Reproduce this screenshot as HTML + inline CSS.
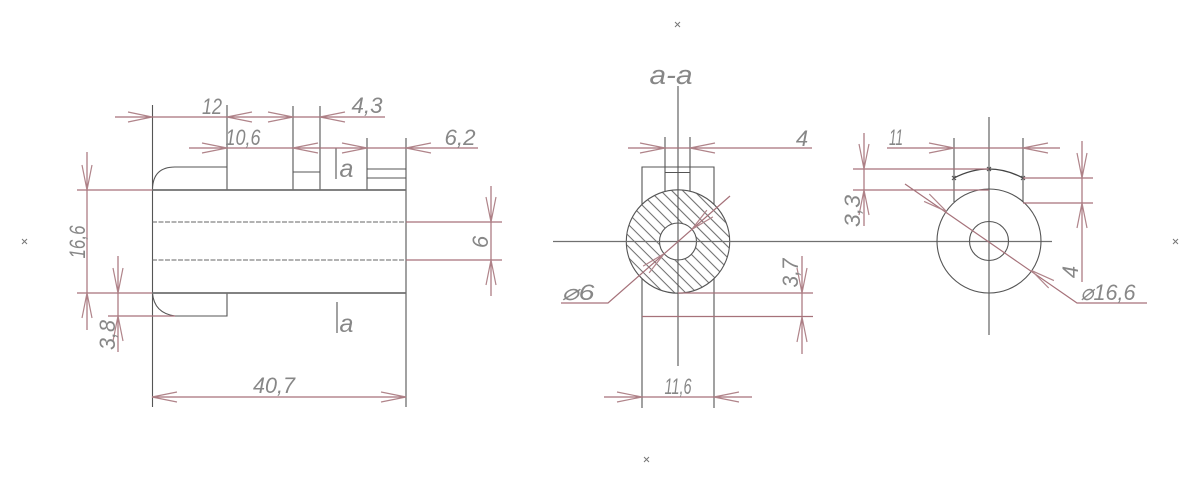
<!DOCTYPE html>
<html><head><meta charset="utf-8"><style>
html,body{margin:0;padding:0;background:#fff}
svg{display:block}
.k{stroke:#555;stroke-width:1.100;fill:none}
.t{stroke:#707070;stroke-width:1.800;fill:none}
.r{stroke:#a6727a;stroke-width:1.200;fill:none}
.a{stroke:#b0848a;stroke-width:1.200;fill:none}
text{font-family:"Liberation Sans",sans-serif;font-style:italic;fill:#878787;font-size:22px;text-anchor:middle}
</style></head><body>
<svg width="1200" height="484" viewBox="0 0 1200 484" xmlns="http://www.w3.org/2000/svg">
<defs><pattern id="h" width="7.800" height="7.800" patternUnits="userSpaceOnUse" patternTransform="rotate(45)"><line x1="0" y1="3" x2="7.800" y2="3" stroke="#666" stroke-width="1"/></pattern></defs>
<path stroke="#777" stroke-width="1" fill="none" d="M22 239l5 5m0-5l-5 5M675 22l5 5m0-5l-5 5M1173 239l5 5m0-5l-5 5M644 457l5 5m0-5l-5 5"/>
<!-- left view -->
<path class="k" d="M152.500 105V407M227 105V190M293 106V190M320 106V190M367 138V190M406 138V407M293 172H320M367 169H406M367 178H406M152.500 189Q153 167 175 167H227M152.500 293Q154 313 175 316H227V293M336 148V179M337 302V333"/>
<path class="t" d="M152 190H406M152 293H406"/>
<path d="M152 222H406M152 260H406" stroke="#666" stroke-width="1.100" stroke-dasharray="5 1.500" fill="none"/>
<path class="r" d="M115 117H385M189 148H478M77 190H152M77 293H152M108 316H175M87 152V330M118 256V352M152 397H406M406 222H502M406 260H502M491 186V296"/>
<path class="a" d="M128 112L152 117L128 122M252 112L227 117L252 122M268 112L293 117L268 122M345 112L320 117L345 122M202 143L227 148L202 153M318 143L293 148L318 153M342 143L367 148L342 153M431 143L406 148L431 153M177 392L152 397L177 402M381 392L406 397L381 402M82 165L87 190L92 165M82 318L87 293L92 318M113 268L118 293L123 268M113 341L118 316L123 341M486 197L491 222L496 197M486 285L491 260L496 285"/>
<!-- section view -->
<circle cx="678" cy="241.500" r="51.700" fill="url(#h)"/>
<circle cx="678" cy="241.500" r="18.500" fill="#fff"/>
<circle class="k" cx="678" cy="241.500" r="51.700"/>
<circle class="k" cx="678" cy="241.500" r="18.500"/>
<path class="k" d="M678 86V366M642 204V167H714V204M665 137V191M690 137V191M665 172.500H690M642 279V408M714 279V408M642 316.500H714"/>
<path class="t" style="stroke-width:1.300" d="M553 241.500H1052"/>
<path class="r" d="M628 148H812M604 397H752M678 293H813M642 316.500H813M802 256V354M730 196L608 303H561"/>
<path class="a" d="M640 143L665 148L640 153M715 143L690 148L715 153M617 392L642 397L617 402M739 392L714 397L739 402M797 268L802 293L807 268M797 342L802 317L807 342M712.900 216.900L691.900 229.300L706.900 210.100M649.100 272.900L664.100 253.700L643.100 266.100"/>
<!-- right view -->
<circle class="k" cx="989" cy="241" r="52"/>
<circle class="k" cx="989" cy="241" r="19.500"/>
<path class="k" d="M989 117V335M954 138V202M1023 138V202"/>
<path d="M954 178Q989 160 1023 178" stroke="#444" stroke-width="1.300" fill="none"/>
<path class="k" d="M952 176l4 4m0-4l-4 4M987 167l4 4m0-4l-4 4M1021 176l4 4m0-4l-4 4"/>
<path class="r" d="M887 148H1060M853 169H989M853 190H989M864 133V226M1023 178H1093M1023 203H1093M1082 141V282M905 184L1077 303H1147"/>
<path class="a" d="M929 143L954 148L929 153M1048 143L1023 148L1048 153M859 144L864 169L869 144M859 215L864 190L869 215M1077 153L1082 178L1087 153M1077 228L1082 203L1087 228M924.100 201.400L946.400 211.400L929.300 194M1048.700 288L1031.600 270.600L1053.900 280.600"/>
<!-- labels -->
<text x="212" y="114" textLength="20" lengthAdjust="spacingAndGlyphs">12</text>
<text x="243" y="145" textLength="35" lengthAdjust="spacingAndGlyphs">10,6</text>
<text x="367" y="113" textLength="31" lengthAdjust="spacingAndGlyphs">4,3</text>
<text x="460" y="145" textLength="31" lengthAdjust="spacingAndGlyphs">6,2</text>
<text x="346.500" y="177" style="font-size:25px">a</text>
<text x="346.500" y="332" style="font-size:25px">a</text>
<text x="274" y="393" textLength="42" lengthAdjust="spacingAndGlyphs">40,7</text>
<text transform="translate(85,242) rotate(-90)" textLength="33" lengthAdjust="spacingAndGlyphs">16,6</text>
<text transform="translate(115,335) rotate(-90)" textLength="30" lengthAdjust="spacingAndGlyphs">3,8</text>
<text transform="translate(488,242) rotate(-90)">6</text>
<text x="671" y="84" textLength="43" lengthAdjust="spacingAndGlyphs" style="font-size:27px">a-a</text>
<text x="802" y="146">4</text>
<text x="578" y="300" textLength="33" lengthAdjust="spacingAndGlyphs">⌀6</text>
<text x="678" y="394" textLength="27" lengthAdjust="spacingAndGlyphs">11,6</text>
<text transform="translate(798,273) rotate(-90)" textLength="29" lengthAdjust="spacingAndGlyphs">3,7</text>
<text x="896" y="145" textLength="14" lengthAdjust="spacingAndGlyphs">11</text>
<text transform="translate(860,211) rotate(-90)" textLength="32" lengthAdjust="spacingAndGlyphs">3,3</text>
<text transform="translate(1078,272) rotate(-90)">4</text>
<text x="1108" y="300" textLength="55" lengthAdjust="spacingAndGlyphs">⌀16,6</text>
</svg>
</body></html>
